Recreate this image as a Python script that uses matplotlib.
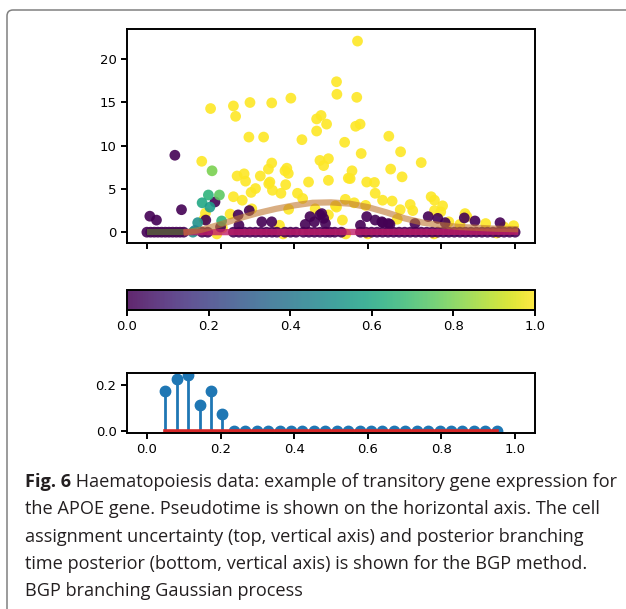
import matplotlib
matplotlib.use('Agg')
import numpy as np
from matplotlib import pyplot as plt
from matplotlib.patches import FancyBboxPatch
from matplotlib.transforms import IdentityTransform
import matplotlib.cm as cm
import matplotlib.colors as mcolors

# cells with assignment probability 1 (yellow)
yellow_x = [0.572, 0.515, 0.516, 0.570, 0.391, 0.339, 0.280, 0.235, 0.241, 0.173,
            0.461, 0.473, 0.461, 0.488, 0.567, 0.579, 0.657, 0.317, 0.277, 0.421,
            0.537, 0.689, 0.582, 0.745, 0.149, 0.470, 0.493, 0.480, 0.339, 0.330,
            0.380, 0.384, 0.375, 0.557, 0.662, 0.245, 0.264, 0.268, 0.308, 0.547,
            0.493, 0.439, 0.693, 0.597, 0.618, 0.620, 0.295, 0.283, 0.331, 0.341,
            0.364, 0.377, 0.409, 0.423, 0.235, 0.259, 0.640, 0.666, 0.539, 0.563,
            0.594, 0.715, 0.722, 0.772, 0.781, 0.803, 0.798, 0.781, 0.688, 0.512,
            0.385, 0.285, 0.226, 0.159, 0.493, 0.531, 0.864, 0.869, 0.920, 0.996,
            0.970, 0.820, 0.850, 0.155, 0.205, 0.680, 0.360, 0.457, 0.515, 0.334,
            0.552, 0.190, 0.370, 0.540, 0.600, 0.780, 0.950, 0.990]
yellow_y = [22.1, 17.4, 15.95, 15.6, 15.5, 14.95, 15.0, 14.6, 13.4, 14.3,
            13.1, 13.5, 11.7, 12.5, 12.25, 12.5, 11.1, 11.0, 11.0, 10.7,
            10.4, 9.3, 9.1, 8.05, 8.2, 8.3, 8.5, 7.7, 8.0, 7.3,
            7.4, 6.8, 7.1, 7.1, 7.3, 6.5, 6.75, 5.9, 6.5, 6.25,
            6.0, 5.8, 6.4, 5.8, 5.75, 4.5, 5.05, 4.6, 5.6, 4.85,
            4.5, 5.5, 4.5, 3.9, 4.1, 3.7, 3.7, 3.6, 3.8, 3.4,
            3.1, 3.2, 2.5, 4.1, 3.7, 3.05, 2.35, 2.5, 2.6, 3.05,
            2.65, 2.7, 2.1, 2.2, 2.0, 1.4, 2.15, 1.8, 1.0, 0.75,
            0.6, 1.2, 0.9, 1.5, 0.5, 1.5, 0.8, 2.7, 2.9, 5.8,
            6.2, -0.2, -0.2, -0.2, -0.2, -0.2, -0.1, 0.2]

# cells with assignment probability 0 (purple), above zero
purple_x = [0.076, 0.008, 0.026, 0.094, 0.185, 0.160, 0.248, 0.278, 0.312, 0.339,
            0.443, 0.470, 0.455, 0.485, 0.430, 0.597, 0.620, 0.640, 0.660, 0.764,
            0.790, 0.810, 0.728, 0.862, 0.891, 0.959, 0.250, 0.200, 0.580, 0.475,
            0.480, 0.638, 0.656]
purple_y = [8.9, 1.85, 1.4, 2.6, 3.5, 1.4, 2.0, 2.5, 1.2, 1.2,
            1.8, 2.0, 1.2, 1.0, 0.9, 1.8, 1.4, 1.1, 0.9, 1.8,
            1.6, 1.1, 1.0, 1.65, 1.3, 1.1, 0.8, 0.6, 0.8, 2.15,
            1.6, 1.2, 1.0]

# purple cells sitting on zero expression
zero_x = [0.0, 0.01, 0.02, 0.03, 0.04, 0.05, 0.06, 0.07, 0.08, 0.09, 0.10,
          0.15, 0.165, 0.235, 0.25, 0.265, 0.28, 0.295, 0.31, 0.325, 0.34, 0.353,
          0.375, 0.39, 0.405, 0.425, 0.44, 0.455, 0.47, 0.485, 0.497, 0.51, 0.528,
          0.58, 0.595, 0.61, 0.625, 0.64, 0.655, 0.67, 0.685, 0.70, 0.715, 0.73,
          0.745, 0.76, 0.775, 0.79, 0.805, 0.82, 0.835, 0.85, 0.865, 0.88, 0.895,
          0.91, 0.925, 0.94, 0.955, 0.97, 0.985, 1.0]

# uncertain cells (teal / green)
mid_x = [0.177, 0.167, 0.197, 0.150, 0.171, 0.138, 0.203, 0.130, 0.125]
mid_y = [7.1, 4.3, 4.3, 3.4, 2.9, 1.1, 1.3, 0.2, 0.0]
mid_c = [0.8, 0.65, 0.75, 0.6, 0.55, 0.5, 0.65, 0.45, 0.5]

# GP mean lines
trunk_x = [0.0, 0.108]
trunk_y = [0.0, 0.0]
branch1_x = [0.108, 0.15, 0.2, 0.25, 0.3, 0.35, 0.4, 0.45, 0.5, 0.55, 0.6, 0.65,
             0.7, 0.75, 0.8, 0.85, 0.9, 0.95, 1.0]
branch1_y = [0.0, 0.3, 0.9, 1.6, 2.2, 2.7, 3.1, 3.4, 3.45, 3.3, 2.9, 2.3,
             1.6, 1.1, 0.8, 0.6, 0.5, 0.4, 0.35]
branch2_x = [0.108, 1.0]
branch2_y = [0.0, 0.05]

# branching time posterior
bt_x = np.linspace(0.05, 0.95, 30)
bt_p = [0.174, 0.226, 0.243, 0.113, 0.172, 0.074] + [0.0] * 24

plt.rcParams['axes.linewidth'] = 1.4
plt.rcParams['xtick.major.width'] = 1.4
plt.rcParams['ytick.major.width'] = 1.4
plt.rcParams['xtick.major.size'] = 4
plt.rcParams['ytick.major.size'] = 4
plt.rcParams['xtick.labelsize'] = 9.5
plt.rcParams['ytick.labelsize'] = 9.5

fig = plt.figure(figsize=(6.26, 6.09), dpi=100)
W, H = 626, 609


def box(x0, y0, x1, y1):
    # pixel box (top-left origin) to figure fractions
    return [x0 / W, 1 - y1 / H, (x1 - x0) / W, (y1 - y0) / H]


ax = fig.add_axes(box(127, 29, 535, 243))
xs = yellow_x + purple_x + zero_x + mid_x
ys = yellow_y + purple_y + [0.0] * len(zero_x) + mid_y
cs = [1.0] * len(yellow_x) + [0.0] * len(purple_x) + [0.0] * len(zero_x) + mid_c
ax.scatter(xs, ys, c=cs, cmap='viridis', vmin=0, vmax=1, s=60, alpha=0.9,
           linewidths=0)
ax.plot(trunk_x, trunk_y, color='#57553f', lw=4.5, alpha=0.95, solid_capstyle='butt')
ax.plot(branch2_x, branch2_y, color='#c21e6a', lw=4.5, alpha=0.8)
ax.plot(branch1_x, branch1_y, color='#c07830', lw=4.5, alpha=0.6)
ax.set_ylim(-1.25, 23.5)
ax.set_xlim(-0.054, 1.054)
ax.set_yticks([0, 5, 10, 15, 20])
ax.set_xticks([0, 0.2, 0.4, 0.6, 0.8, 1.0])
ax.set_xticklabels([])

cax = fig.add_axes(box(127, 290, 535, 310))
sm = cm.ScalarMappable(norm=mcolors.Normalize(0, 1), cmap='viridis')
cb = fig.colorbar(sm, cax=cax, orientation='horizontal', alpha=0.85)
cb.set_ticks([0.0, 0.2, 0.4, 0.6, 0.8, 1.0])

ax2 = fig.add_axes(box(127, 373, 535, 433))
markers, stems, base = ax2.stem(bt_x, bt_p, linefmt='C0-', markerfmt='C0o', basefmt='C3-')
markers.set_markersize(7.5)
stems.set_linewidth(2)
base.set_linewidth(2.6)
ax2.set_xlim(-0.054, 1.054)
ax2.set_ylim(-0.009, 0.252)
ax2.set_xticks([0.0, 0.2, 0.4, 0.6, 0.8, 1.0])
ax2.set_yticks([0.0, 0.2])

# caption
cap_font = dict(family='Open Sans', fontsize=13.05, color='#231f20')
lines = ['the APOE gene. Pseudotime is shown on the horizontal axis. The cell',
         'assignment uncertainty (top, vertical axis) and posterior branching',
         'time posterior (bottom, vertical axis) is shown for the BGP method.',
         'BGP branching Gaussian process']
y0 = 1 - 487 / H
t1 = fig.text(25 / W, y0, 'Fig. 6', fontweight='bold', va='baseline', **cap_font)
ax2.annotate(' Haematopoiesis data: example of transitory gene expression for',
             xy=(1, 0), xycoords=t1, va='bottom', ha='left', **cap_font)
for i, line in enumerate(lines):
    fig.text(25 / W, y0 - (i + 1) * 27.3 / H, line, va='baseline', **cap_font)

# rounded frame around the figure
frame = FancyBboxPatch((7, -30), 660, 629, boxstyle='round,pad=0,rounding_size=6',
                       transform=IdentityTransform(), fill=False, ec='#808080', lw=1.1)
fig.add_artist(frame)

plt.savefig('out.png', dpi=100)
